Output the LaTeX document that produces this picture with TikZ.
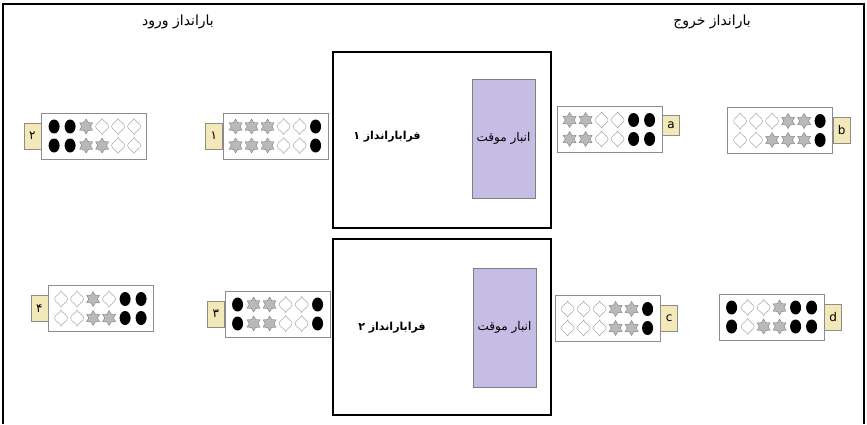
\documentclass[tikz,border=0pt]{standalone}
\usepackage{fontspec}
\setmainfont{DejaVu Sans}
\newfontfamily\arabicfont[Script=Arabic]{DejaVu Sans}
\TeXXeTstate=1
\usetikzlibrary{positioning,shapes.geometric}

\definecolor{tagfill}{HTML}{F3E8B8}
\definecolor{storefill}{HTML}{C5BDE3}
\definecolor{edgegray}{HTML}{8C8C8C}

\tikzset{
  dockbox/.style={draw=edgegray, line width=0.8pt, fill=white, minimum width=105pt, minimum height=46pt, inner sep=0pt},
  tagbox/.style={draw=edgegray, fill=tagfill, inner sep=0pt, minimum width=17pt, minimum height=26pt, font=\large},
  hall/.style={draw=black, line width=1.5pt, minimum width=218pt, minimum height=176pt, inner sep=0pt},
  store/.style={draw=gray, fill=storefill, minimum width=63pt, minimum height=119pt, font=\arabicfont\fontsize{12}{14}\selectfont},
  hallname/.style={font=\arabicfont\fontsize{11}{13}\selectfont\bfseries},
  headline/.style={font=\arabicfont\fontsize{14}{16}\selectfont}
}

% the three kinds of goods
\newcommand\symK{\fill[black] (0,0) ellipse (5.5pt and 7pt);}
\newcommand\symS{\node[star, star points=6, star point ratio=1.7, draw=gray, fill=gray!55, minimum size=15pt, inner sep=0pt] {};}
\newcommand\symD{\draw[gray!80, fill=white] (0,-8) .. controls (1,-5) and (6.5,-3) .. (6.5,0) .. controls (6.5,3) and (1,5) .. (0,8) .. controls (-1,5) and (-6.5,3) .. (-6.5,0) .. controls (-6.5,-3) and (-1,-5) .. cycle;}
% #1 dock node, #2 upper row, #3 lower row
\newcommand\dockrows[3]{%
  \foreach \m [count=\i] in {#2}
    {\begin{scope}[shift={(#1.west)}, shift={(\i*16-3,-9.5)}]\csname sym\m\endcsname\end{scope}}
  \foreach \m [count=\i] in {#3}
    {\begin{scope}[shift={(#1.west)}, shift={(\i*16-3,9.5)}]\csname sym\m\endcsname\end{scope}}
}

\begin{document}
\begin{tikzpicture}[x=1pt,y=-1pt]
\useasboundingbox (0,0) rectangle (867,424);
% frame
\draw[line width=2pt] (3,424) -- (3,4) -- (864,4) -- (864,424);

% headings
\node[headline] (inhead) at (178,22) {\beginR بارانداز ورود\endR};
\node[headline] (outhead) at (712,22) {\beginR بارانداز خروج\endR};

% cross-docks
\node[hall] (hall1) at (442,140) {};
\node[hall] (hall2) at (442,327) {};
\node[store] (store1) at (503.5,138.5) {\beginR انبار موقت\endR};
\node[store] (store2) at (504.5,327.5) {\beginR انبار موقت\endR};
\node[hallname] (name1) at (387,137) {\beginR فرابارانداز ۱\endR};
\node[hallname] (name2) at (392,328) {\beginR فرابارانداز ۲\endR};

% inbound docks
\node[dockbox] (in2) at (94,136) {};
\node[dockbox] (in1) at (275.5,136) {};
\node[dockbox] (in4) at (101,308.5) {};
\node[dockbox] (in3) at (277.5,314) {};
\node[tagbox, left=0pt of in2] (tag2) {\arabicfont ۲};
\node[tagbox, left=0pt of in1] (tag1) {\arabicfont ۱};
\node[tagbox, left=0pt of in4] (tag4) {\arabicfont ۴};
\node[tagbox, left=0pt of in3] (tag3) {\arabicfont ۳};
\dockrows{in2}{K,K,S,D,D,D}{K,K,S,S,D,D}
\dockrows{in1}{S,S,S,D,D,K}{S,S,S,D,D,K}
\dockrows{in4}{D,D,S,D,K,K}{D,D,S,S,K,K}
\dockrows{in3}{K,S,S,D,D,K}{K,S,S,D,D,K}

% outbound docks
\node[dockbox] (outa) at (609.5,129.5) {};
\node[dockbox] (outb) at (780,130.5) {};
\node[dockbox] (outc) at (607.5,318.5) {};
\node[dockbox] (outd) at (771.5,317) {};
\node[tagbox, right=0pt of outa, minimum height=20pt, yshift=4pt] (taga) {a};
\node[tagbox, right=0pt of outb] (tagb) {b};
\node[tagbox, right=0pt of outc] (tagc) {c};
\node[tagbox, right=0pt of outd] (tagd) {d};
\dockrows{outa}{S,S,D,D,K,K}{S,S,D,D,K,K}
\dockrows{outb}{D,D,D,S,S,K}{D,D,S,S,S,K}
\dockrows{outc}{D,D,D,S,S,K}{D,D,D,S,S,K}
\dockrows{outd}{K,D,D,S,K,K}{K,D,S,S,K,K}
\end{tikzpicture}
\end{document}
